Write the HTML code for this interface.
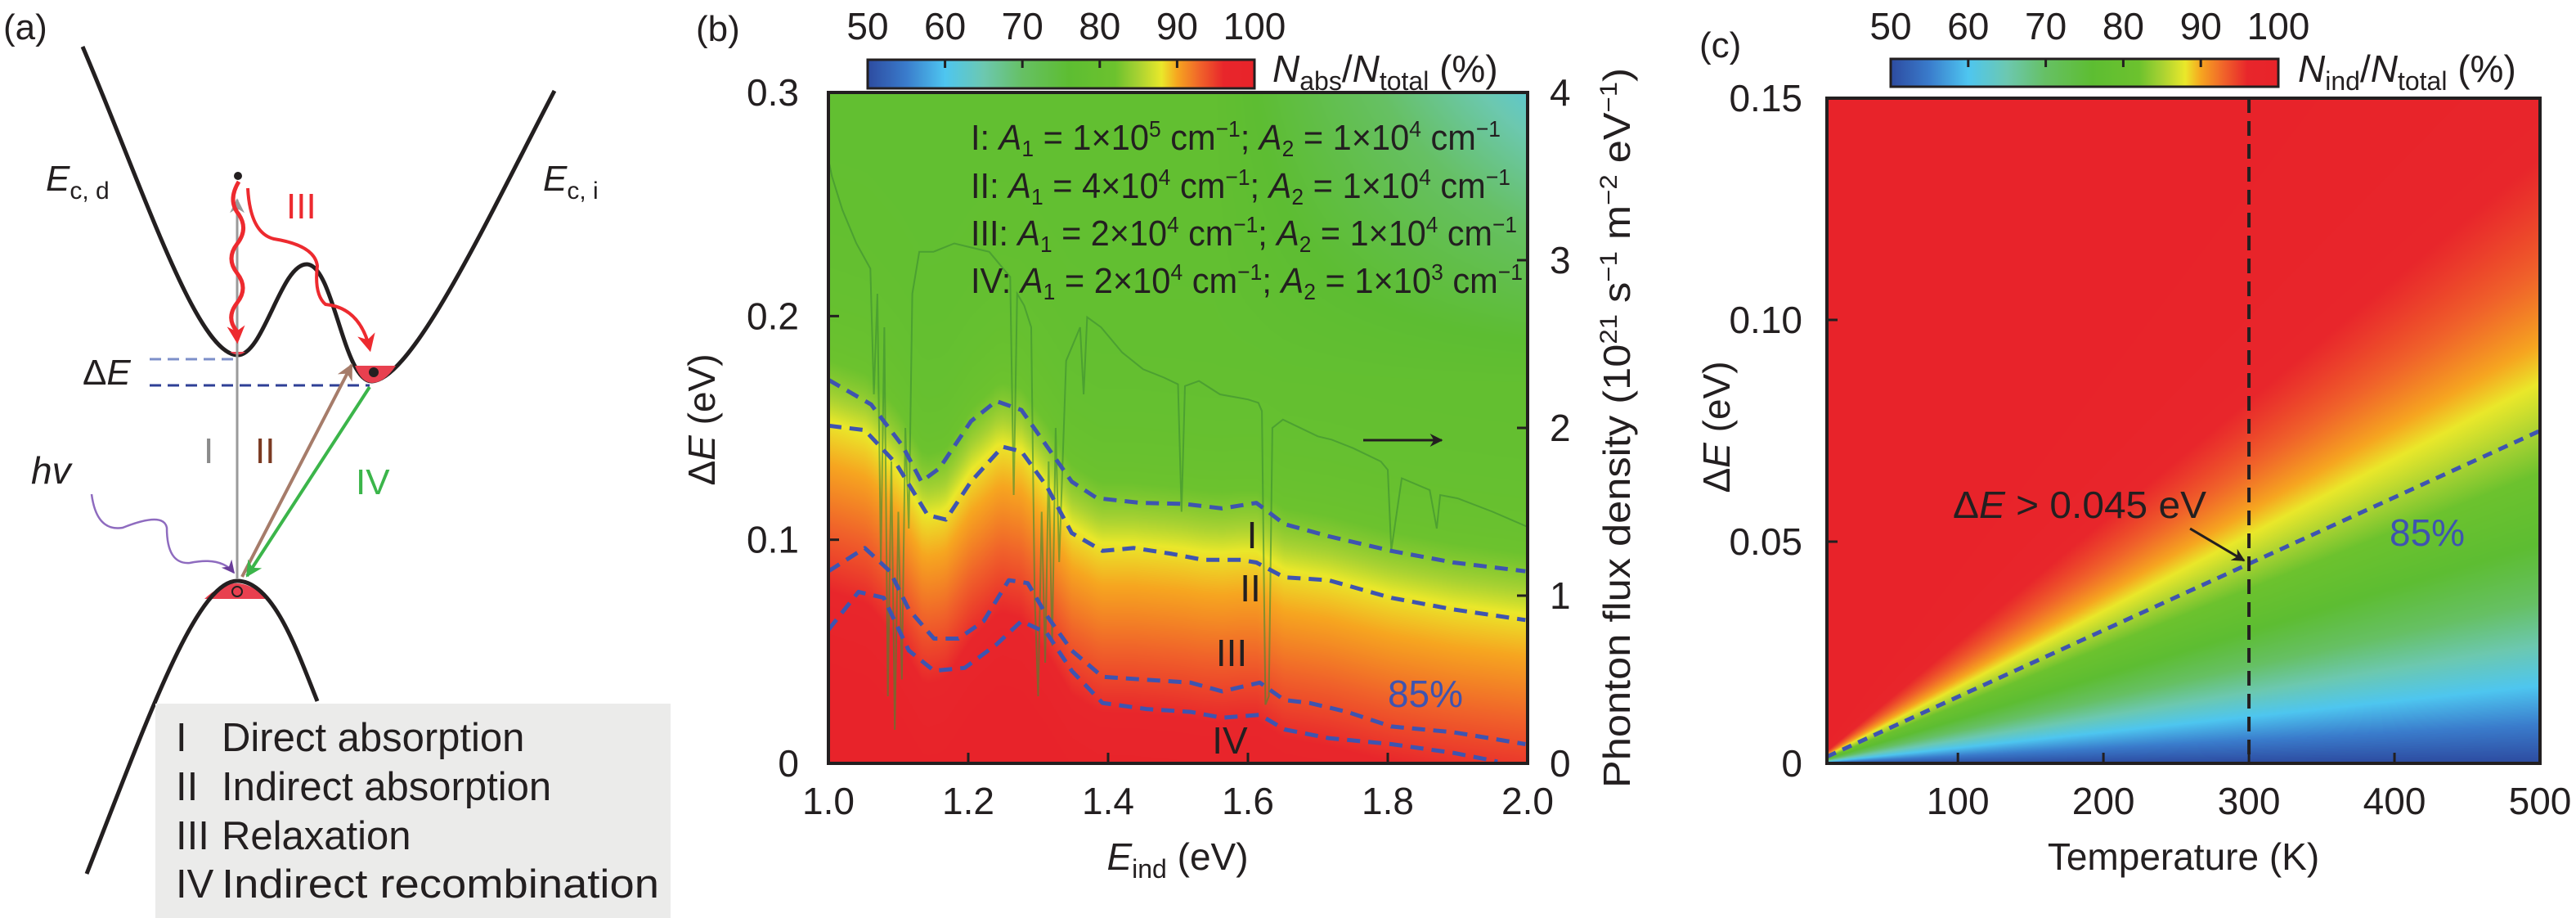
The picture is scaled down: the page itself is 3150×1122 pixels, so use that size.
<!DOCTYPE html>
<html><head><meta charset="utf-8">
<style>
html,body{margin:0;padding:0;background:#fff;}
#wrap{position:relative;width:3150px;height:1122px;overflow:hidden;font-family:"Liberation Sans",sans-serif;}
canvas{position:absolute;}
svg{position:absolute;left:0;top:0;}
text{font-family:"Liberation Sans",sans-serif;fill:#231f20;}
</style></head>
<body>
<div id="wrap">
<canvas id="cb" width="855" height="820" style="left:1013px;top:113px"></canvas>
<canvas id="cc" width="872" height="813" style="left:2234px;top:120px"></canvas>
<svg id="svg" width="3150" height="1122" viewBox="0 0 3150 1122">
<defs>
<marker id="ahGray" viewBox="0 0 10 10" refX="9" refY="5" markerWidth="18" markerHeight="18" orient="auto" markerUnits="userSpaceOnUse"><path d="M0,0 L10,5 L0,10 L3,5z" fill="#9a9a9a"/></marker>
<marker id="ahBrown" viewBox="0 0 10 10" refX="9" refY="5" markerWidth="20" markerHeight="20" orient="auto" markerUnits="userSpaceOnUse"><path d="M0,0 L10,5 L0,10 L3,5z" fill="#a67c6a"/></marker>
<marker id="ahGreen" viewBox="0 0 10 10" refX="9" refY="5" markerWidth="20" markerHeight="20" orient="auto" markerUnits="userSpaceOnUse"><path d="M0,0 L10,5 L0,10 L3,5z" fill="#3bb54a"/></marker>
<marker id="ahRed" viewBox="0 0 10 10" refX="8" refY="5" markerWidth="22" markerHeight="22" orient="auto" markerUnits="userSpaceOnUse"><path d="M0,0 L10,5 L0,10 L3,5z" fill="#ed2a2f"/></marker>
<marker id="ahPurple" viewBox="0 0 10 10" refX="9" refY="5" markerWidth="16" markerHeight="16" orient="auto" markerUnits="userSpaceOnUse"><path d="M0,0 L10,5 L0,10 L3,5z" fill="#6a3d9a"/></marker>
<marker id="ahBlack" viewBox="0 0 10 10" refX="9" refY="5" markerWidth="16" markerHeight="16" orient="auto" markerUnits="userSpaceOnUse"><path d="M0,0 L10,5 L0,10 L3,5z" fill="#231f20"/></marker>
</defs>

<g>
<text x="4" y="48" font-size="44">(a)</text>
<path d="M101,57 C175,230 240,432 290,434 C322,436 343,323 375,323 C408,323 420,468 455,466 C505,464 600,260 678,111" fill="none" stroke="#231f20" stroke-width="5"/>
<path d="M250,732 Q290,694 326,732 Z" fill="#e8404f"/>
<path d="M106,1068 C180,880 240,710 290,710 C335,710 365,800 388,857" fill="none" stroke="#231f20" stroke-width="5"/>
<path d="M434,447 L484,447 Q470,468 455,468 Q442,468 434,447 Z" fill="#e8404f"/>
<path d="M281,430 L300,430 Q291,437 281,430Z" fill="#e8404f"/>
<circle cx="457" cy="455" r="6" fill="#231f20"/>
<circle cx="290" cy="723" r="6" fill="none" stroke="#231f20" stroke-width="2"/>
<line x1="183" y1="439" x2="292" y2="439" stroke="#7d8fc9" stroke-width="3" stroke-dasharray="14,8"/>
<line x1="183" y1="471" x2="452" y2="471" stroke="#2e3f96" stroke-width="3" stroke-dasharray="14,8"/>
<text x="101" y="470" font-size="44">Δ<tspan font-style="italic">E</tspan></text>
<text x="56" y="233" font-size="44"><tspan font-style="italic">E</tspan><tspan font-size="30" dy="10">c, d</tspan></text>
<text x="664" y="233" font-size="44"><tspan font-style="italic">E</tspan><tspan font-size="30" dy="10">c, i</tspan></text>
<line x1="290" y1="708" x2="290" y2="244" stroke="#9a9a9a" stroke-width="3" marker-end="url(#ahGray)"/>
<circle cx="291" cy="215" r="5" fill="#231f20"/>
<line x1="296" y1="705" x2="430" y2="446" stroke="#a67c6a" stroke-width="4" marker-end="url(#ahBrown)"/>
<line x1="452" y1="473" x2="302" y2="704" stroke="#3bb54a" stroke-width="4" marker-end="url(#ahGreen)"/>
<path d="M292,222 Q278,245 292,262 Q304,280 290,298 Q276,316 290,334 Q304,352 290,370 Q276,388 289,404 L290,416" fill="none" stroke="#ed2a2f" stroke-width="5" marker-end="url(#ahRed)"/>
<path d="M303,230 Q306,285 335,292 Q385,300 388,325 Q384,360 398,372 Q440,376 452,426" fill="none" stroke="#ed2a2f" stroke-width="4" marker-end="url(#ahRed)"/>
<text x="249" y="566" font-size="44" style="fill:#8a8a8a">I</text>
<text x="312" y="566" font-size="44" style="fill:#7b3a22">II</text>
<text x="350" y="267" font-size="44" style="fill:#ed2a2f">III</text>
<text x="435" y="604" font-size="44" style="fill:#3bb54a">IV</text>
<text x="38" y="591" font-size="46" font-style="italic">hv</text>
<path d="M112,604 Q118,650 150,645 Q200,625 204,645 Q204,690 232,688 Q270,680 286,700" fill="none" stroke="#8e6bbf" stroke-width="2.5" marker-end="url(#ahPurple)"/>
<rect x="190" y="860" width="630" height="262" fill="#ebebea"/>
<g font-size="49">
<text x="215" y="918">I</text><text x="271" y="918">Direct absorption</text>
<text x="215" y="978">II</text><text x="271" y="978">Indirect absorption</text>
<text x="215" y="1038">III</text><text x="271" y="1038">Relaxation</text>
<text x="215" y="1097">IV</text><text x="271" y="1097" textLength="535" lengthAdjust="spacingAndGlyphs">Indirect recombination</text>
</g>
</g>

<g id="gb"></g>
<g id="gc"></g>
</svg>
</div>
<script>
const cmapVals = [50, 55, 60, 65, 70, 76, 82, 85, 88, 90, 93, 96, 100];
const cmapCols = ['#2d4ba0','#3a7ccc','#4ec6f0','#6cc8b0','#66c064','#5dbd32','#6cc22e','#a8d232','#eae82a','#f6a620','#f0622a','#e8262b','#e8232a'];
const cbTickVals = [50, 60, 70, 80, 90, 100];

const contourE = [1.0,1.061,1.106,1.133,1.159,1.204,1.240,1.276,1.312,1.348,1.384,1.446,1.509,1.563,1.612,1.652,1.715,1.805,1.894,1.997];
const contourI = [0.1715,0.1605,0.142,0.126,0.132,0.153,0.162,0.158,0.142,0.126,0.1186,0.1165,0.116,0.114,0.1165,0.107,0.1016,0.095,0.0898,0.0859];
const contourIIE = [1.0,1.052,1.097,1.142,1.168,1.204,1.249,1.276,1.312,1.348,1.392,1.437,1.491,1.536,1.590,1.612,1.652,1.715,1.805,1.894,1.997];
const contourII = [0.151,0.149,0.134,0.111,0.109,0.126,0.1416,0.1395,0.124,0.103,0.095,0.0963,0.0937,0.091,0.091,0.0898,0.0832,0.0819,0.074,0.0688,0.0641];
const contourIIIE = [1.0,1.052,1.088,1.115,1.151,1.186,1.222,1.258,1.285,1.312,1.348,1.392,1.455,1.518,1.563,1.617,1.652,1.688,1.742,1.805,1.894,1.997];
const contourIII = [0.0859,0.0963,0.0859,0.0688,0.0558,0.0558,0.0636,0.0819,0.0806,0.0662,0.0505,0.0387,0.0374,0.0361,0.0322,0.0361,0.0283,0.027,0.023,0.0165,0.0139,0.0086];
const contourIVE = [1.0,1.043,1.079,1.115,1.151,1.195,1.240,1.276,1.312,1.348,1.392,1.455,1.518,1.563,1.617,1.652,1.715,1.805,1.894,1.957];
const contourIV = [0.0597,0.0767,0.0741,0.0505,0.0414,0.0427,0.0531,0.0636,0.0584,0.0414,0.027,0.0243,0.023,0.0204,0.0217,0.0152,0.0113,0.0086,0.0047,0.0008];
const fluxE = [1.0,1.005,1.02,1.04,1.06,1.065,1.07,1.075,1.08,1.085,1.09,1.095,1.10,1.105,1.11,1.115,1.12,1.13,1.15,1.18,1.2,1.23,1.25,1.26,1.265,1.27,1.28,1.29,1.295,1.30,1.305,1.31,1.315,1.32,1.325,1.33,1.34,1.36,1.365,1.37,1.39,1.42,1.45,1.48,1.50,1.505,1.51,1.53,1.56,1.60,1.615,1.62,1.625,1.63,1.635,1.65,1.70,1.72,1.75,1.79,1.80,1.805,1.82,1.86,1.87,1.875,1.90,1.95,2.0];
const fluxV = [3.6,3.5,3.3,3.1,2.95,2.2,2.8,1.2,2.6,0.4,1.8,0.2,1.5,0.5,2.0,1.4,2.8,3.05,3.05,3.1,3.08,3.05,2.95,2.9,1.6,2.8,2.73,2.6,1.0,0.4,1.5,0.6,1.8,0.7,2.0,1.2,2.4,2.6,2.2,2.66,2.6,2.45,2.35,2.3,2.26,1.5,2.25,2.28,2.2,2.17,2.15,2.1,0.35,0.4,2.0,2.05,1.95,1.93,1.88,1.8,1.75,1.27,1.7,1.63,1.4,1.6,1.58,1.5,1.41];
const bXTicks = [1.0,1.2,1.4,1.6,1.8,2.0];
const bXLabels = ['1.0','1.2','1.4','1.6','1.8','2.0'];
const bYTicks = [0,0.1,0.2,0.3];
const bYLabels = ['0','0.1','0.2','0.3'];
const bRTicks = [0,1,2,3,4];
const bRLabels = ['0','1','2','3','4'];

const cXTicks = [100,200,300,400,500];
const cXLabels = ['100','200','300','400','500'];
const cYTicks = [0,0.05,0.10,0.15];
const cYLabels = ['0','0.05','0.10','0.15'];
const contour85T = [10, 500];
const contour85E = [0.0015, 0.075];
const markT = [300];
const markE = [0.045];

const NS = 'http://www.w3.org/2000/svg';
function hex(c){return [parseInt(c.slice(1,3),16),parseInt(c.slice(3,5),16),parseInt(c.slice(5,7),16)];}
const cmapRGB = cmapCols.map(hex);
function cmap(v){
  if(v<=cmapVals[0]) return cmapRGB[0];
  for(let i=1;i<cmapVals.length;i++){
    if(v<=cmapVals[i]){const t=(v-cmapVals[i-1])/(cmapVals[i]-cmapVals[i-1]);const a=cmapRGB[i-1],b=cmapRGB[i];return [a[0]+(b[0]-a[0])*t,a[1]+(b[1]-a[1])*t,a[2]+(b[2]-a[2])*t];}
  }
  return cmapRGB[cmapRGB.length-1];
}
function interp(xs,ys,x){
  if(x<=xs[0])return ys[0];
  for(let i=1;i<xs.length;i++){if(x<=xs[i]){const t=(x-xs[i-1])/(xs[i]-xs[i-1]);return ys[i-1]+(ys[i]-ys[i-1])*t;}}
  return ys[ys.length-1];
}
function el(tag,attrs,parent){const e=document.createElementNS(NS,tag);for(const k in attrs)e.setAttribute(k,attrs[k]);parent.appendChild(e);return e;}
function txt(parent,x,y,s,size,anchor){const t=el('text',{x:x,y:y,'font-size':size,'text-anchor':anchor||'start'},parent);t.textContent=s;return t;}

const bL=1013,bR=1868,bT=113,bB=933;
const xE=E=>bL+(E-1.0)/1.0*(bR-bL);
const yD=d=>bB-d/0.3*(bB-bT);
const yF=f=>bB-f/4*(bB-bT);
(function(){
  const cv=document.getElementById('cb');const ctx=cv.getContext('2d');
  const W=cv.width,H=cv.height;const img=ctx.createImageData(W,H);
  for(let i=0;i<W;i++){
    const E=1.0+i/W;
    const b=(interp(contourE,contourI,E)+interp(contourIIE,contourII,E))/2-0.008;
    for(let j=0;j<H;j++){
      const d=0.3*(1-j/H);
      let f;
      if(d<b){f=88+Math.min(12,(b-d)*105);}
      else{f=88-10*(1-Math.exp(-(d-b)/0.03));}
      f-=Math.max(0,E-1.55)*Math.max(0,d-0.17)*260;
      const c=cmap(f);const k=(j*W+i)*4;
      img.data[k]=c[0];img.data[k+1]=c[1];img.data[k+2]=c[2];img.data[k+3]=255;
    }
  }
  ctx.putImageData(img,0,0);
})();
(function(){
  const g=document.getElementById('gb');
  let p='';
  for(let i=0;i<fluxE.length;i++){p+=(i?'L':'M')+xE(fluxE[i]).toFixed(1)+','+yF(fluxV[i]).toFixed(1);}
  const fl=el('path',{d:p,fill:'none',stroke:'rgba(60,140,50,0.6)','stroke-width':2},g);
  
  
  const sets=[[contourE,contourI,'contour-i'],[contourIIE,contourII,'contour-ii'],[contourIIIE,contourIII,'contour-iii'],[contourIVE,contourIV,'contour-iv']];
  sets.forEach(s=>{
    let q='';for(let i=0;i<s[0].length;i++){q+=(i?'L':'M')+xE(s[0][i]).toFixed(1)+','+yD(s[1][i]).toFixed(1);}
    const c=el('path',{d:q,fill:'none',stroke:'#3e54b0','stroke-width':5,'stroke-dasharray':'16,10','stroke-linejoin':'round'},g);
    
    
  });
  const fr=el('rect',{x:bL,y:bT,width:bR-bL,height:bB-bT,fill:'none',stroke:'#231f20','stroke-width':4},g);
  
  
  bXTicks.forEach((v,i)=>{
    el('line',{x1:xE(v),y1:bB,x2:xE(v),y2:bB-13,stroke:'#231f20','stroke-width':3},g);
    const t=txt(g,xE(v),995,bXLabels[i],46,'middle');
    
    
  });
  bYTicks.forEach((v,i)=>{
    el('line',{x1:bL,y1:yD(v),x2:bL+13,y2:yD(v),stroke:'#231f20','stroke-width':3},g);
    const t=txt(g,977,yD(v)+16,bYLabels[i],46,'end');
    
    
  });
  bRTicks.forEach((v,i)=>{
    el('line',{x1:bR,y1:yF(v),x2:bR-13,y2:yF(v),stroke:'#231f20','stroke-width':3},g);
    const t=txt(g,1895,yF(v)+16,bRLabels[i],46,'start');
    
    
  });
})();

function colorbar(g,x0,x1,y0,y1,name){
  const id='grad'+name;
  const defs=el('defs',{},g);
  const lg=el('linearGradient',{id:id,x1:'0',x2:'1',y1:'0',y2:'0'},defs);
  for(let v=50;v<=100;v+=1){const c=cmap(v);el('stop',{offset:((v-50)/50).toFixed(3),'stop-color':'rgb('+c.map(Math.round).join(',')+')'},lg);}
  const r=el('rect',{x:x0,y:y0,width:x1-x0,height:y1-y0,fill:'url(#'+id+')',stroke:'#231f20','stroke-width':3},g);
  
  
  cbTickVals.forEach(v=>{
    const x=x0+(v-50)/50*(x1-x0);
    if(v>50&&v<100) el('line',{x1:x,y1:y0,x2:x,y2:y0+10,stroke:'#231f20','stroke-width':3},g);
    const t=txt(g,x,48,String(v),46,'middle');
    
    
  });
}
(function(){
  const g=document.getElementById('gb');
  colorbar(g,1061,1534,73,108,'b');
  g.insertAdjacentHTML('beforeend',
  '<text x="851" y="50" font-size="44">(b)</text>'+
  '<text x="1556" y="100" font-size="46"><tspan font-style="italic">N</tspan><tspan font-size="32" dy="10">abs</tspan><tspan dy="-10">/</tspan><tspan font-style="italic">N</tspan><tspan font-size="32" dy="10">total</tspan><tspan dy="-10"> (%)</tspan></text>'+
  '<text x="1440" y="1063" font-size="46" text-anchor="middle"><tspan font-style="italic">E</tspan><tspan font-size="32" dy="10">ind</tspan><tspan dy="-10"> (eV)</tspan></text>'+
  '<text transform="translate(874,513) rotate(-90)" font-size="46" text-anchor="middle">Δ<tspan font-style="italic">E</tspan> (eV)</text>'+
  '<text transform="translate(1993,963) rotate(-90)" font-size="46" textLength="880" lengthAdjust="spacingAndGlyphs">Phonton flux density (10<tspan font-size="30" dy="-16">21</tspan><tspan dy="16"> s</tspan><tspan font-size="30" dy="-16">−1</tspan><tspan dy="16"> m</tspan><tspan font-size="30" dy="-16">−2</tspan><tspan dy="16"> eV</tspan><tspan font-size="30" dy="-16">−1</tspan><tspan dy="16">)</tspan></text>'+
  '<g font-size="44">'+
  '<text x="1187" y="183" textLength="648" lengthAdjust="spacingAndGlyphs">I: <tspan font-style="italic">A</tspan><tspan font-size="28" dy="8">1</tspan><tspan dy="-8"> = 1×10</tspan><tspan font-size="28" dy="-16">5</tspan><tspan dy="16"> cm</tspan><tspan font-size="28" dy="-16">−1</tspan><tspan dy="16">; </tspan><tspan font-style="italic">A</tspan><tspan font-size="28" dy="8">2</tspan><tspan dy="-8"> = 1×10</tspan><tspan font-size="28" dy="-16">4</tspan><tspan dy="16"> cm</tspan><tspan font-size="28" dy="-16">−1</tspan></text>'+
  '<text x="1187" y="242" textLength="660" lengthAdjust="spacingAndGlyphs">II: <tspan font-style="italic">A</tspan><tspan font-size="28" dy="8">1</tspan><tspan dy="-8"> = 4×10</tspan><tspan font-size="28" dy="-16">4</tspan><tspan dy="16"> cm</tspan><tspan font-size="28" dy="-16">−1</tspan><tspan dy="16">; </tspan><tspan font-style="italic">A</tspan><tspan font-size="28" dy="8">2</tspan><tspan dy="-8"> = 1×10</tspan><tspan font-size="28" dy="-16">4</tspan><tspan dy="16"> cm</tspan><tspan font-size="28" dy="-16">−1</tspan></text>'+
  '<text x="1187" y="300" textLength="668" lengthAdjust="spacingAndGlyphs">III: <tspan font-style="italic">A</tspan><tspan font-size="28" dy="8">1</tspan><tspan dy="-8"> = 2×10</tspan><tspan font-size="28" dy="-16">4</tspan><tspan dy="16"> cm</tspan><tspan font-size="28" dy="-16">−1</tspan><tspan dy="16">; </tspan><tspan font-style="italic">A</tspan><tspan font-size="28" dy="8">2</tspan><tspan dy="-8"> = 1×10</tspan><tspan font-size="28" dy="-16">4</tspan><tspan dy="16"> cm</tspan><tspan font-size="28" dy="-16">−1</tspan></text>'+
  '<text x="1187" y="358" textLength="675" lengthAdjust="spacingAndGlyphs">IV: <tspan font-style="italic">A</tspan><tspan font-size="28" dy="8">1</tspan><tspan dy="-8"> = 2×10</tspan><tspan font-size="28" dy="-16">4</tspan><tspan dy="16"> cm</tspan><tspan font-size="28" dy="-16">−1</tspan><tspan dy="16">; </tspan><tspan font-style="italic">A</tspan><tspan font-size="28" dy="8">2</tspan><tspan dy="-8"> = 1×10</tspan><tspan font-size="28" dy="-16">3</tspan><tspan dy="16"> cm</tspan><tspan font-size="28" dy="-16">−1</tspan></text>'+
  '</g>'+
  '<text x="1531" y="670" font-size="46" text-anchor="middle">I</text>'+
  '<text x="1529" y="735" font-size="46" text-anchor="middle">II</text>'+
  '<text x="1506" y="814" font-size="46" text-anchor="middle">III</text>'+
  '<text x="1504" y="921" font-size="46" text-anchor="middle">IV</text>'+
  '<text x="1743" y="864" font-size="46" text-anchor="middle" style="fill:#3e54b0">85%</text>'+
  '<line x1="1667" y1="538" x2="1763" y2="538" stroke="#231f20" stroke-width="3" marker-end="url(#ahBlack)"/>');
})();

const cL=2234,cR=3106,cT=120,cB=933;
const xT=T=>cL+(T-10)/490*(cR-cL);
const yC=d=>cB-d/0.15*(cB-cT);
(function(){
  const cv=document.getElementById('cc');const ctx=cv.getContext('2d');
  const W=cv.width,H=cv.height;const img=ctx.createImageData(W,H);
  const kB=8.617e-5;
  for(let i=0;i<W;i++){
    const T=10+(i+0.5)/W*490;
    for(let j=0;j<H;j++){
      const d=0.15*(1-(j+0.5)/H);
      const f=100/(1+Math.exp(-d/(kB*T)));
      const c=cmap(f);const k=(j*W+i)*4;
      img.data[k]=c[0];img.data[k+1]=c[1];img.data[k+2]=c[2];img.data[k+3]=255;
    }
  }
  ctx.putImageData(img,0,0);
})();
(function(){
  const g=document.getElementById('gc');
  const l85=el('line',{x1:xT(contour85T[0]),y1:yC(contour85E[0]),x2:xT(contour85T[1]),y2:yC(contour85E[1]),stroke:'#3e54b0','stroke-width':5,'stroke-dasharray':'12,9'},g);
  
  
  const vl=el('line',{x1:xT(markT[0]),y1:cT,x2:xT(markT[0]),y2:cB,stroke:'#231f20','stroke-width':4,'stroke-dasharray':'18,10'},g);
  
  
  const ar=el('line',{x1:xT(markT[0])-72,y1:yC(markE[0])-43,x2:xT(markT[0])-6,y2:yC(markE[0])-4,stroke:'#231f20','stroke-width':3,'marker-end':'url(#ahBlack)'},g);
  
  
  const fr=el('rect',{x:cL,y:cT,width:cR-cL,height:cB-cT,fill:'none',stroke:'#231f20','stroke-width':4},g);
  
  
  cXTicks.forEach((v,i)=>{
    el('line',{x1:xT(v),y1:cB,x2:xT(v),y2:cB-13,stroke:'#231f20','stroke-width':3},g);
    const t=txt(g,xT(v),995,cXLabels[i],46,'middle');
    
    
  });
  cYTicks.forEach((v,i)=>{
    el('line',{x1:cL,y1:yC(v),x2:cL+13,y2:yC(v),stroke:'#231f20','stroke-width':3},g);
    const t=txt(g,2204,yC(v)+16,cYLabels[i],46,'end');
    
    
  });
  colorbar(g,2312,2786,72,106,'c');
  g.insertAdjacentHTML('beforeend',
  '<text x="2078" y="70" font-size="44">(c)</text>'+
  '<text x="2810" y="100" font-size="46"><tspan font-style="italic">N</tspan><tspan font-size="32" dy="10">ind</tspan><tspan dy="-10">/</tspan><tspan font-style="italic">N</tspan><tspan font-size="32" dy="10">total</tspan><tspan dy="-10"> (%)</tspan></text>'+
  '<text x="2670" y="1063" font-size="46" text-anchor="middle">Temperature (K)</text>'+
  '<text transform="translate(2115,522) rotate(-90)" font-size="46" text-anchor="middle">Δ<tspan font-style="italic">E</tspan> (eV)</text>'+
  '<text x="2388" y="633" font-size="46" textLength="310" lengthAdjust="spacingAndGlyphs">Δ<tspan font-style="italic">E</tspan> &gt; 0.045 eV</text>'+
  '<text x="2922" y="667" font-size="46" style="fill:#3e54b0">85%</text>');
})();
</script>
</body></html>
